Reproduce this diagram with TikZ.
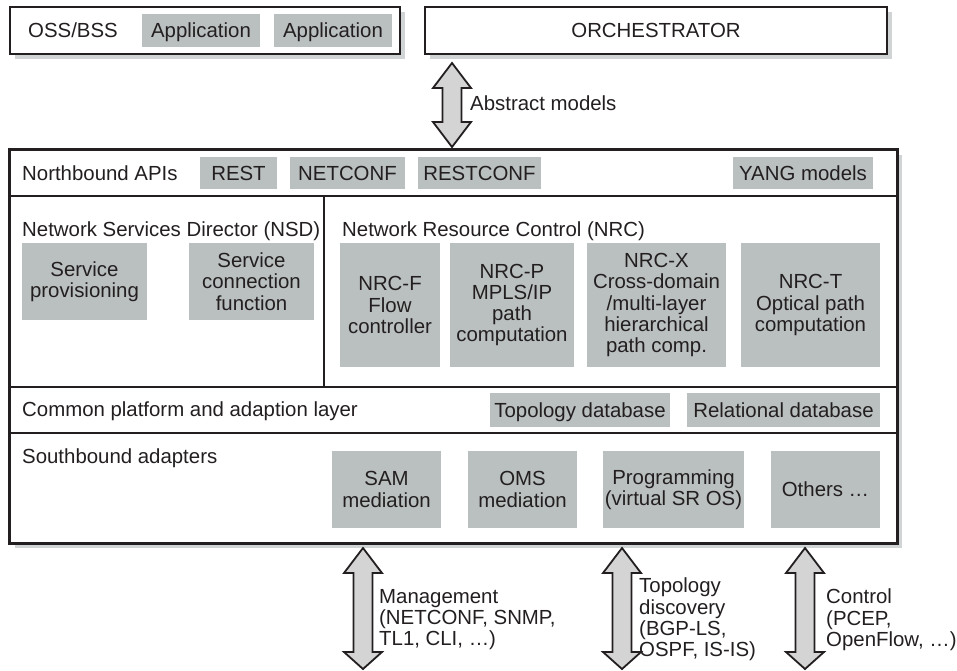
\documentclass[tikz,border=0pt]{standalone}
\usepackage{fontspec}
\setmainfont{Liberation Sans}
\usetikzlibrary{calc,shadows}
\definecolor{gfill}{RGB}{186,191,191}
\definecolor{afill}{RGB}{212,212,212}
\definecolor{shad}{RGB}{208,212,212}
\definecolor{ink}{RGB}{35,31,32}
\newcommand\darrow[4]{%
\draw[arrowshape] let \p1=(#1), \p2=(#2) in
 (\x1,\y1) -- (\x1+19pt,\y1-#3pt) -- (\x1+9.5pt,\y1-#3pt) -- (\x1+9.5pt,\y2+#4pt)
 -- (\x1+19pt,\y2+#4pt) -- (\x1,\y2) -- (\x1-19pt,\y2+#4pt) -- (\x1-9.5pt,\y2+#4pt)
 -- (\x1-9.5pt,\y1-#3pt) -- (\x1-19pt,\y1-#3pt) -- cycle;}
\begin{document}
\begin{tikzpicture}[x=1pt,y=-1pt,font=\fontsize{20.4}{21.3}\selectfont,
  frame/.style={draw=ink,line width=2.2pt,fill=white,inner sep=0pt,
    drop shadow={shadow xshift=5pt,shadow yshift=-5pt,fill=shad,opacity=1}},
  rowbox/.style={draw=ink,line width=1.3pt,inner sep=0pt},
  gbox/.style={fill=gfill,inner sep=0pt,align=center,text=ink},
  onel/.style={text height=14.6pt,text depth=0pt},
  lbl/.style={inner sep=0pt,text=ink,anchor=base west},
  mlbl/.style={inner sep=0pt,text=ink,anchor=north west,align=left},
  arrowshape/.style={draw=ink,line width=1.8pt,fill=afill,line join=miter}]
\useasboundingbox (0,0) rectangle (957,670);
\fill[white] (0,0) rectangle (957,670);
% top row
\node[frame,minimum width=390pt,minimum height=47pt] (oss) at (205,30.5) {};
\node[lbl] (osslbl) at (28,37.5) {OSS/BSS};
\node[gbox,onel,minimum width=118pt,minimum height=33pt] (app1) at (201,30.5) {Application};
\node[gbox,onel,minimum width=118pt,minimum height=33pt] (app2) at (333,30.5) {Application};
\node[frame,onel,minimum width=462pt,minimum height=47pt,text=ink] (orch) at (656,30.5) {ORCHESTRATOR};
% main box
\node[frame,minimum width=887pt,minimum height=393pt] (main) at (453.5,346.5) {};
\node[rowbox,minimum width=887pt,minimum height=46pt] (nb) at (453.5,173) {};
\node[rowbox,minimum width=314pt,minimum height=191pt] (nsd) at (167,291.5) {};
\node[rowbox,minimum width=573pt,minimum height=191pt] (nrc) at (610.5,291.5) {};
\node[rowbox,minimum width=887pt,minimum height=46pt] (cp) at (453.5,410) {};
\node[rowbox,minimum width=887pt,minimum height=110pt] (sb) at (453.5,488) {};
\draw[draw=ink,line width=2.2pt] (main.north west) rectangle (main.south east);
% northbound
\node[lbl] (nblbl) at (22,180) {Northbound APIs};
\node[gbox,onel,minimum width=77pt,minimum height=32pt] (rest) at (238.5,173) {REST};
\node[gbox,onel,minimum width=115pt,minimum height=32pt] (netconf) at (347.5,173) {NETCONF};
\node[gbox,onel,minimum width=123pt,minimum height=32pt] (restconf) at (479.5,173) {RESTCONF};
\node[gbox,onel,minimum width=140pt,minimum height=32pt] (yang) at (803,173) {YANG models};
% NSD
\node[lbl] (nsdlbl) at (22,236) {Network Services Director (NSD)};
\node[gbox,minimum width=125pt,minimum height=77pt] (sprov) at (84.5,281.5) {Service\\provisioning};
\node[gbox,minimum width=125pt,minimum height=77pt] (sconn) at (251.5,281.5) {Service\\connection\\function};
% NRC
\node[lbl] (nrclbl) at (342,236) {Network Resource Control (NRC)};
\node[gbox,minimum width=100pt,minimum height=124pt] (nrcf) at (390,305) {NRC-F\\Flow\\controller};
\node[gbox,minimum width=124pt,minimum height=124pt] (nrcp) at (512,305) {NRC-P\\MPLS/IP\\path\\computation};
\node[gbox,minimum width=139pt,minimum height=124pt] (nrcx) at (656.5,305) {NRC-X\\Cross-domain\\/multi-layer\\hierarchical\\path comp.};
\node[gbox,minimum width=139pt,minimum height=124pt] (nrct) at (810.5,305) {NRC-T\\Optical path\\computation};
% common platform
\node[lbl] (cplbl) at (22,416) {Common platform and adaption layer};
\node[gbox,onel,minimum width=180pt,minimum height=34pt] (topo) at (580,410) {Topology database};
\node[gbox,onel,minimum width=193pt,minimum height=34pt] (rel) at (783.5,410) {Relational database};
% southbound
\node[lbl] (sblbl) at (22,463) {Southbound adapters};
\node[gbox,minimum width=109pt,minimum height=77pt] (sam) at (386.5,489.5) {SAM\\mediation};
\node[gbox,minimum width=109pt,minimum height=77pt] (oms) at (522.5,489.5) {OMS\\mediation};
\node[gbox,minimum width=141pt,minimum height=77pt] (prog) at (673.5,489.5) {Programming\\(virtual SR OS)};
\node[gbox,onel,minimum width=109pt,minimum height=77pt] (others) at (825.5,489.5) {Others \dots};
% arrows
\coordinate (amtop) at (452,63);
\coordinate (ambot) at (452,147);
\darrow{amtop}{ambot}{25}{25}
\node[lbl] (amlbl) at (470,110) {Abstract models};
\coordinate (mgtop) at (363,548);
\coordinate (mgbot) at (363,669);
\darrow{mgtop}{mgbot}{25}{17}
\node[mlbl] (mglbl) at (379,589) {Management\\(NETCONF, SNMP,\\TL1, CLI, \dots)};
\coordinate (tdtop) at (622,548);
\coordinate (tdbot) at (622,669);
\darrow{tdtop}{tdbot}{25}{17}
\node[mlbl] (tdlbl) at (639,578) {Topology\\discovery\\(BGP-LS,\\OSPF, IS-IS)};
\coordinate (cttop) at (805,548);
\coordinate (ctbot) at (805,669);
\darrow{cttop}{ctbot}{25}{17}
\node[mlbl] (ctlbl) at (826,589) {Control\\(PCEP,\\OpenFlow, \dots)};
\end{tikzpicture}
\end{document}
